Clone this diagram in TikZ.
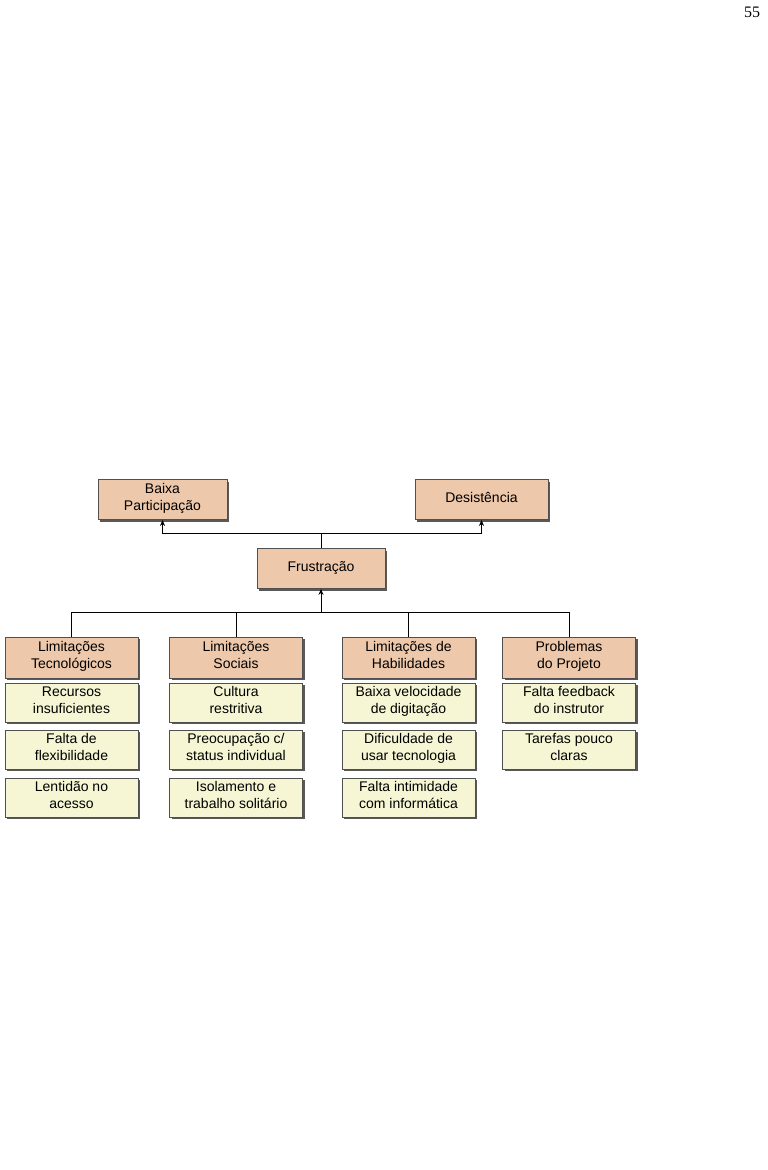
\documentclass[tikz,border=0pt]{standalone}
\usepackage{fontspec}
\setmainfont{Liberation Sans}
\newfontfamily\pagefont{Liberation Serif}
\usetikzlibrary{shadows,arrows.meta}
\definecolor{headfill}{RGB}{238,200,170}
\definecolor{itemfill}{RGB}{246,246,212}
\definecolor{boxline}{RGB}{80,80,80}
\begin{document}
\begin{tikzpicture}[x=1pt,y=-1pt]
\tikzstyle{every node}+=[font=\fontsize{14}{17}\selectfont, align=center, inner sep=0pt]
\tikzstyle{headbox}=[draw=boxline, line width=0.8pt, fill=headfill, minimum width=133pt, minimum height=40pt, execute at begin node=\strut, execute at end node=\strut, drop shadow={shadow xshift=2pt, shadow yshift=-2pt, fill=black!65, opacity=1}]
\tikzstyle{itembox}=[headbox, fill=itemfill, minimum height=39pt]
\tikzstyle{link}=[black, line width=1pt]
\tikzstyle{uplink}=[link, -{Stealth[length=6pt,width=5pt]}]
\useasboundingbox (0,0) rectangle (768,1170);
\node (pagenum) at (752,12) {\pagefont\fontsize{16}{16}\selectfont 55};
% top row
\node [headbox, minimum width=129pt] (baixa) at (162.5,499.5) {Baixa\\Participação};
\node [headbox] (desist) at (481.5,499.5) {Desistência};
\node [headbox, minimum width=128pt] (frust) at (321,568.5) {Frustração};
% headers
\node [headbox, minimum height=41pt] (tec) at (71.5,657.5) {Limitações\\Tecnológicos};
\node [headbox, minimum height=41pt] (soc) at (236,657.5) {Limitações\\Sociais};
\node [headbox, minimum height=41pt] (hab) at (408.5,657.5) {Limitações de\\Habilidades};
\node [headbox, minimum height=41pt] (prob) at (569,657.5) {Problemas\\do Projeto};
% items
\node [itembox] (tec1) at (71.5,702.5) {Recursos\\insuficientes};
\node [itembox] (tec2) at (71.5,749.5) {Falta de\\flexibilidade};
\node [itembox] (tec3) at (71.5,797.5) {Lentidão no\\acesso};
\node [itembox] (soc1) at (236,702.5) {Cultura\\restritiva};
\node [itembox] (soc2) at (236,749.5) {Preocupação c/\\status individual};
\node [itembox] (soc3) at (236,797.5) {Isolamento e\\trabalho solitário};
\node [itembox] (hab1) at (408.5,702.5) {Baixa velocidade\\de digitação};
\node [itembox] (hab2) at (408.5,749.5) {Dificuldade de\\usar tecnologia};
\node [itembox] (hab3) at (408.5,797.5) {Falta intimidade\\com informática};
\node [itembox] (prob1) at (569,702.5) {Falta feedback\\do instrutor};
\node [itembox] (prob2) at (569,749.5) {Tarefas pouco\\claras};
% connectors
\coordinate (topbus) at (321,533);
\coordinate (lowbus) at (321,612);
\draw [link] (frust.north) -- (topbus);
\draw [uplink] (topbus) -| (baixa.south);
\draw [uplink] (topbus) -| (desist.south);
\draw [uplink] (lowbus) -- (frust.south);
\draw [link] (tec.north) |- (lowbus);
\draw [link] (soc.north) |- (lowbus);
\draw [link] (hab.north) |- (lowbus);
\draw [link] (prob.north) |- (lowbus);
\end{tikzpicture}
\end{document}
